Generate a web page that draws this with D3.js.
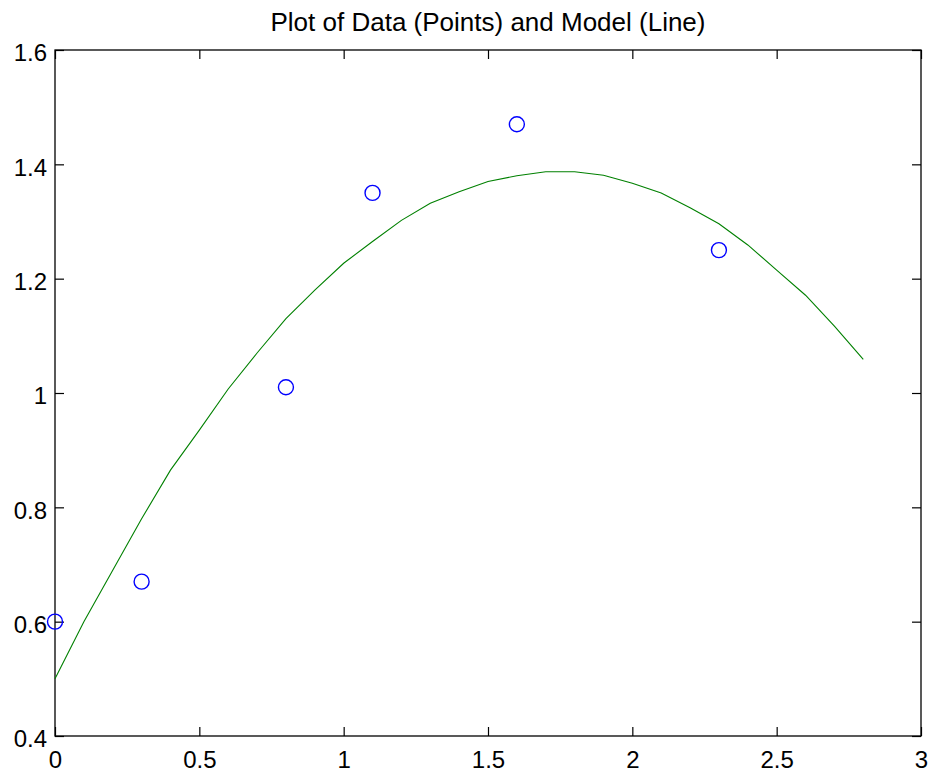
<!DOCTYPE html>
<html>

<head>
    <title>Plot of Data and Model</title>
    <script src="https://d3js.org/d3.v7.min.js"></script>
    <style>
        body {
            margin: 0;
            background: #fff;
        }

        text {
            font-family: Arial, "Liberation Sans", sans-serif;
            fill: #000;
        }

        .axis path {
            display: none;
        }

        .axis line {
            stroke: #000;
            stroke-width: 1.2px;
        }

        .axis text {
            font-size: 24px;
        }

        .frame {
            fill: none;
            stroke: #000;
            stroke-width: 1.3px;
        }

        .model {
            fill: none;
            stroke: #008000;
            stroke-width: 1.1px;
        }

        .dot {
            fill: none;
            stroke: #0000ff;
            stroke-width: 1.4px;
        }
    </style>
</head>

<body>
    <script>
        // measured data (circles)
        var dataX = [0, 0.3, 0.8, 1.1, 1.6, 2.3];
        var dataY = [0.6, 0.67, 1.01, 1.35, 1.47, 1.25];

        // model curve (green line)
        var modelX = [0, 0.1, 0.2, 0.3, 0.4, 0.5, 0.6, 0.7, 0.8, 0.9, 1.0, 1.1, 1.2, 1.3, 1.4,
            1.5, 1.6, 1.7, 1.8, 1.9, 2.0, 2.1, 2.2, 2.3, 2.4, 2.5, 2.6, 2.7, 2.8];
        var modelY = [0.50, 0.60, 0.69, 0.78, 0.865, 0.935, 1.007, 1.07, 1.13, 1.18, 1.227, 1.265,
            1.302, 1.332, 1.352, 1.370, 1.380, 1.387, 1.387, 1.381, 1.367, 1.350, 1.324, 1.296,
            1.259, 1.215, 1.171, 1.117, 1.059];

        var xTicks = [0, 0.5, 1, 1.5, 2, 2.5, 3];
        var yTicks = [0.4, 0.6, 0.8, 1, 1.2, 1.4, 1.6];
        var title = "Plot of Data (Points) and Model (Line)";

        var width = 935, height = 773;
        var box = { left: 55, right: 921, top: 50, bottom: 736 };

        var svg = d3.select("body").append("svg")
            .attr("width", width)
            .attr("height", height);

        var x = d3.scaleLinear().domain([0, 3]).range([box.left, box.right]);
        var y = d3.scaleLinear().domain([0.4, 1.6]).range([box.bottom, box.top]);

        svg.append("text")
            .attr("x", (box.left + box.right) / 2)
            .attr("y", 31)
            .attr("text-anchor", "middle")
            .style("font-size", "26px")
            .text(title);

        // axes with inward ticks on all four sides
        svg.append("g")
            .attr("class", "axis")
            .attr("transform", "translate(0," + box.bottom + ")")
            .call(d3.axisBottom(x).tickValues(xTicks).tickSize(-9).tickPadding(15).tickFormat(d3.format("")));

        svg.append("g")
            .attr("class", "axis")
            .attr("transform", "translate(0," + box.top + ")")
            .call(d3.axisTop(x).tickValues(xTicks).tickSize(-9).tickFormat(""));

        var yAxis = svg.append("g")
            .attr("class", "axis")
            .attr("transform", "translate(" + box.left + ",0)")
            .call(d3.axisLeft(y).tickValues(yTicks).tickSize(-9).tickPadding(8).tickFormat(d3.format("")));
        yAxis.selectAll("text").attr("dy", "0.45em");

        svg.append("g")
            .attr("class", "axis")
            .attr("transform", "translate(" + box.right + ",0)")
            .call(d3.axisRight(y).tickValues(yTicks).tickSize(-9).tickFormat(""));

        svg.append("rect")
            .attr("class", "frame")
            .attr("x", box.left)
            .attr("y", box.top)
            .attr("width", box.right - box.left)
            .attr("height", box.bottom - box.top);

        var line = d3.line()
            .x(d => x(d[0]))
            .y(d => y(d[1]));

        svg.append("path")
            .attr("class", "model")
            .attr("d", line(d3.zip(modelX, modelY)));

        svg.selectAll(".dot")
            .data(d3.zip(dataX, dataY))
            .enter()
            .append("circle")
            .attr("class", "dot")
            .attr("cx", d => x(d[0]))
            .attr("cy", d => y(d[1]))
            .attr("r", 7.5);
    </script>
</body>

</html>
